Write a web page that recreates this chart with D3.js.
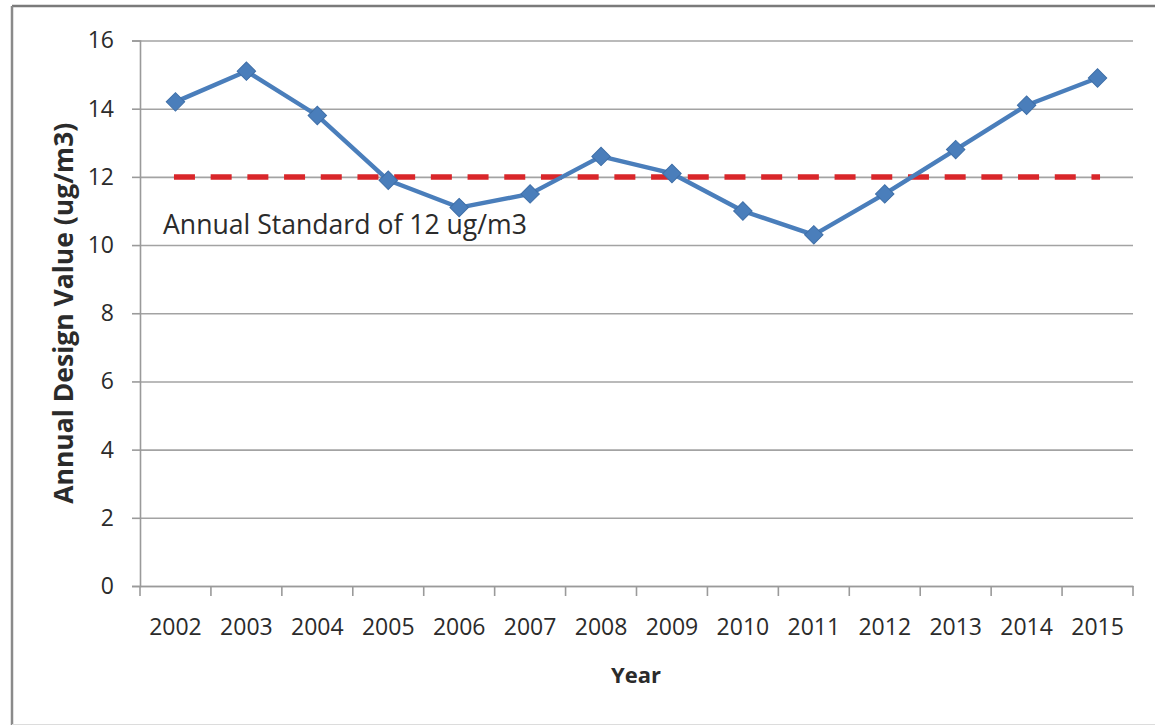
<!DOCTYPE html>
<html>
<head>
<meta charset="utf-8">
<script src="https://cdn.jsdelivr.net/npm/d3@7"></script>
<style>
  html, body { margin: 0; padding: 0; background: #fff; }
  svg { display: block; }
  text { font-family: "Open Sans", "Noto Sans", sans-serif; fill: #2b2b2b; }
</style>
</head>
<body>
<svg id="chart" width="1155" height="726"></svg>
<script>
// Annual PM2.5 design values by year
const years = ["2002","2003","2004","2005","2006","2007","2008","2009","2010","2011","2012","2013","2014","2015"];
const designValues = [14.2, 15.1, 13.8, 11.9, 11.1, 11.5, 12.6, 12.1, 11.0, 10.3, 11.5, 12.8, 14.1, 14.9];
const annualStandard = 12;
const yTicks = [0, 2, 4, 6, 8, 10, 12, 14, 16];

const svg = d3.select("#chart");
const W = 1155, H = 726;
const plot = { left: 140, right: 1133, top: 40.5, bottom: 586 };

// outer frame
svg.append("line").attr("x1", 12).attr("x2", W).attr("y1", 6).attr("y2", 6)
  .attr("stroke", "#7a7a7a").attr("stroke-width", 2.5);
svg.append("line").attr("x1", 12).attr("x2", 12).attr("y1", 6).attr("y2", 725)
  .attr("stroke", "#8a8a8a").attr("stroke-width", 2.5);
svg.append("line").attr("x1", 12).attr("x2", W).attr("y1", 724.5).attr("y2", 724.5)
  .attr("stroke", "#dcdcdc").attr("stroke-width", 1);

const x = d3.scaleBand().domain(years).range([plot.left, plot.right]).padding(0);
const y = d3.scaleLinear().domain([0, 16]).range([plot.bottom, plot.top]);
const cx = d => x(d) + x.bandwidth() / 2;

// horizontal gridlines
const grid = svg.append("g").attr("transform", `translate(${plot.left},0)`)
  .call(d3.axisLeft(y).tickValues(yTicks).tickSize(-(plot.right - plot.left)).tickFormat(""));
grid.select(".domain").remove();
grid.selectAll(".tick line").attr("stroke", "#a3a3a3").attr("stroke-width", 1.6);

// y axis
const yAxis = svg.append("g").attr("transform", `translate(${plot.left},0)`)
  .call(d3.axisLeft(y).tickValues(yTicks).tickSize(8).tickPadding(18).tickFormat(d3.format("d")));
yAxis.select(".domain").attr("stroke", "#9a9a9a").attr("stroke-width", 1.6);
yAxis.selectAll(".tick line").attr("stroke", "#9a9a9a").attr("stroke-width", 1.6);
yAxis.selectAll(".tick text").attr("font-size", 23).attr("fill", "#2b2b2b")
  .style("font-family", "'Open Sans', sans-serif");

// x axis: ticks sit on category boundaries
const xAxis = svg.append("g").attr("transform", `translate(0,${plot.bottom})`)
  .call(d3.axisBottom(x).tickSize(0).tickPadding(33));
xAxis.select(".domain").attr("stroke", "#9a9a9a").attr("stroke-width", 1.6);
xAxis.selectAll(".tick text").attr("font-size", 23).attr("fill", "#2b2b2b")
  .style("font-family", "'Open Sans', sans-serif");
const bounds = years.map(d => x(d)).concat([x(years[years.length - 1]) + x.bandwidth()]);
xAxis.selectAll(".bound").data(bounds).enter().append("line")
  .attr("class", "bound")
  .attr("x1", d => d).attr("x2", d => d).attr("y1", 0).attr("y2", 10)
  .attr("stroke", "#9a9a9a").attr("stroke-width", 1.6);

// axis titles
svg.append("text")
  .attr("transform", `translate(66,${(plot.top + plot.bottom) / 2}) rotate(-90)`)
  .attr("text-anchor", "middle").attr("dominant-baseline", "middle")
  .attr("font-size", 26.5).attr("font-weight", "bold").attr("fill", "#1f1f1f")
  .text("Annual Design Value (ug/m3)");
svg.append("text")
  .attr("x", 636).attr("y", 683)
  .attr("text-anchor", "middle")
  .attr("font-size", 22).attr("font-weight", "bold").attr("fill", "#1f1f1f")
  .text("Year");

// annual standard reference line
svg.append("line")
  .attr("x1", cx(years[0]) - 1.5).attr("x2", cx(years[years.length - 1]) + 2.5)
  .attr("y1", y(annualStandard)).attr("y2", y(annualStandard))
  .attr("stroke", "#d9262a").attr("stroke-width", 5.5)
  .attr("stroke-dasharray", "21 15.7");

svg.append("text")
  .attr("x", 163).attr("y", 234)
  .attr("font-size", 26.6).attr("fill", "#2b2b2b")
  .text(`Annual Standard of ${annualStandard} ug/m3`);

// data series
const pts = years.map((yr, i) => ({ yr, v: designValues[i] }));
svg.append("path").datum(pts)
  .attr("fill", "none").attr("stroke", "#4a7ebb").attr("stroke-width", 4.4)
  .attr("stroke-linejoin", "round")
  .attr("d", d3.line().x(d => cx(d.yr)).y(d => y(d.v)));

const diamond = d3.symbol().type(d3.symbolSquare).size(170);
svg.selectAll(".marker").data(pts).enter().append("path")
  .attr("class", "marker")
  .attr("transform", d => `translate(${cx(d.yr)},${y(d.v)}) rotate(45)`)
  .attr("d", diamond)
  .attr("fill", "#4a7ebb").attr("stroke", "#3f6fa8").attr("stroke-width", 1);
</script>
</body>
</html>
